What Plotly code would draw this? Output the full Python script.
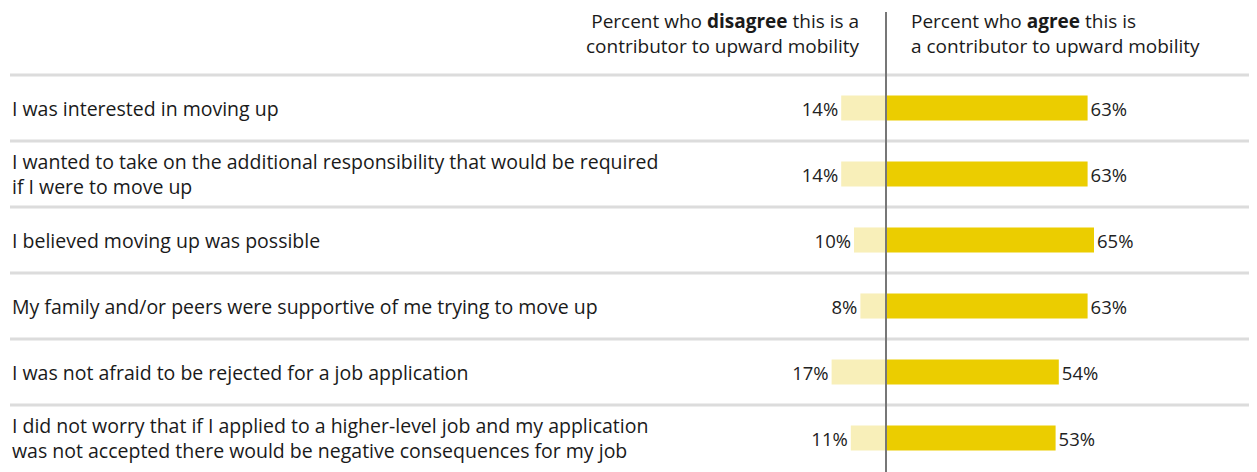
import plotly.graph_objects as go

# data
statements = [
    "I was interested in moving up",
    "I wanted to take on the additional responsibility that would be required<br>if I were to move up",
    "I believed moving up was possible",
    "My family and/or peers were supportive of me trying to move up",
    "I was not afraid to be rejected for a job application",
    "I did not worry that if I applied to a higher-level job and my application<br>was not accepted there would be negative consequences for my job",
]
disagree = [14, 14, 10, 8, 17, 11]
agree = [63, 63, 65, 63, 54, 53]

FONT = "Open Sans, Roboto, Arial, sans-serif"
PAGE_OFF = 8          # body margin of the html page
W, H = 1257 - PAGE_OFF, 472 - PAGE_OFF
CENTER_PX = 886 - PAGE_OFF
PX_PER_PCT = 3.2
ROW_PX = 66
FIRST_ROW_PX = 108 - PAGE_OFF

rows = list(range(len(statements)))

fig = go.Figure()

fig.add_trace(go.Bar(
    y=rows, x=[-v for v in disagree], orientation="h",
    marker=dict(color="#F8EFB9", line=dict(width=0)),
    width=0.38,
    text=[f"{v}%" for v in disagree], textposition="outside",
    textfont=dict(family=FONT, size=18.5, color="#222"),
    cliponaxis=False, hoverinfo="skip",
))
fig.add_trace(go.Bar(
    y=rows, x=agree, orientation="h",
    marker=dict(color="#EBCD00", line=dict(width=0)),
    width=0.38,
    text=[f"{v}%" for v in agree], textposition="outside",
    textfont=dict(family=FONT, size=18.5, color="#222"),
    cliponaxis=False, hoverinfo="skip",
))

# row labels
for i, s in enumerate(statements):
    fig.add_annotation(
        x=(10 - PAGE_OFF) / W, xref="paper", y=i, yref="y", text=s, showarrow=False,
        xanchor="left", yanchor="middle", align="left",
        font=dict(family=FONT, size=19.5, color="#1a1a1a"),
    )

# separators between rows
for i in range(len(statements)):
    fig.add_shape(type="line", xref="paper", x0=(10 - PAGE_OFF) / W, x1=1, yref="y",
                  y0=i - 0.5, y1=i - 0.5, line=dict(color="#DCDCDC", width=3),
                  layer="below")

# center axis
fig.add_shape(type="line", xref="x", x0=0, x1=0, yref="paper",
              y0=0, y1=1 - (12 - PAGE_OFF) / H, line=dict(color="#777", width=2),
              layer="above")

# headers
fig.add_annotation(
    x=(CENTER_PX - 24) / W, xref="paper", y=1 + 2 / H, yref="paper",
    text="Percent who <b>disagree</b> this is a<br>contributor to upward mobility",
    showarrow=False, xanchor="right", yanchor="top", align="right",
    font=dict(family=FONT, size=19, color="#1a1a1a"),
)
fig.add_annotation(
    x=(CENTER_PX + 23) / W, xref="paper", y=1 + 2 / H, yref="paper",
    text="Percent who <b>agree</b> this is<br>a contributor to upward mobility",
    showarrow=False, xanchor="left", yanchor="top", align="left",
    font=dict(family=FONT, size=19, color="#1a1a1a"),
)

x_lo = -CENTER_PX / PX_PER_PCT
x_hi = (W - CENTER_PX) / PX_PER_PCT
y_top = -FIRST_ROW_PX / ROW_PX
y_bot = y_top + H / ROW_PX

fig.update_layout(
    width=W, height=H,
    margin=dict(l=0, r=0, t=0, b=0),
    paper_bgcolor="white", plot_bgcolor="white",
    barmode="overlay", showlegend=False,
    font=dict(family=FONT),
    xaxis=dict(range=[x_lo, x_hi], visible=False, fixedrange=True),
    yaxis=dict(range=[y_bot, y_top], visible=False, fixedrange=True),
)

fig.write_html("out.html")
